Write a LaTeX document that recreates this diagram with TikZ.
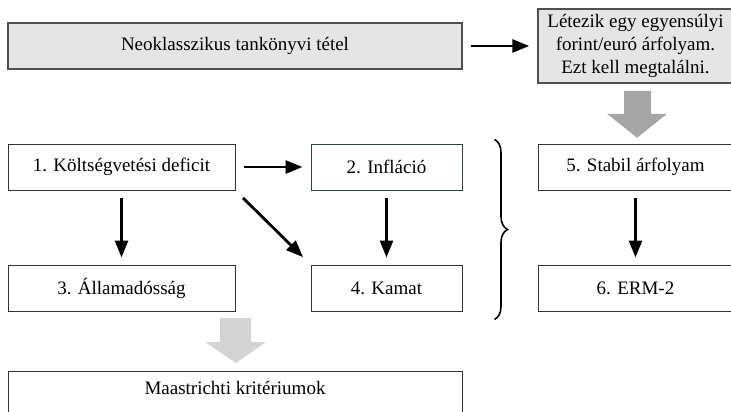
\documentclass[tikz,border=0pt]{standalone}
\usepackage{fontspec}
\setmainfont{Liberation Serif}
\usetikzlibrary{arrows.meta,calc,decorations.pathreplacing}
\definecolor{boxfill}{RGB}{229,229,229}
\definecolor{boxedge}{RGB}{80,80,80}
\definecolor{greenedge}{RGB}{40,72,56}
\definecolor{bigarrowdark}{RGB}{166,166,166}
\definecolor{bigarrowlight}{RGB}{212,212,212}
\tikzset{
  graybox/.style={draw=boxedge, line width=1.5pt, fill=boxfill, inner sep=0pt, align=center},
  plainbox/.style={draw=black!80, line width=1pt, fill=white, inner sep=0pt, minimum height=46pt},
  conn/.style={line width=2.8pt, -{Triangle[length=17pt,width=13pt]}},
}
\begin{document}
\begin{tikzpicture}[x=1pt,y=-1pt,font=\fontsize{19}{23}\selectfont]
\useasboundingbox (0,0) rectangle (731,412);
\clip (0,0) rectangle (731,412);
% top row
\node[graybox, minimum width=454pt, minimum height=46pt] (neo) at (235,46) {Neoklasszikus tankönyvi tétel};
\node[graybox, minimum width=195pt, minimum height=74pt] (let) at (635.5,46) {Létezik egy egyensúlyi\\forint/euró árfolyam.\\Ezt kell megtalálni.};
% middle rows
\node[plainbox, minimum width=227pt] (b1) at (121.5,167) {1. Költségvetési deficit};
\node[plainbox, minimum width=151pt, draw=greenedge] (b2) at (386.5,167) {2. Infláció};
\node[plainbox, minimum width=195pt] (b5) at (635.5,167) {5. Stabil árfolyam};
\node[plainbox, minimum width=227pt] (b3) at (121.5,288) {3. Államadósság};
\node[plainbox, minimum width=151pt] (b4) at (386.5,288) {4. Kamat};
\node[plainbox, minimum width=195pt] (b6) at (635.5,288) {6. ERM-2};
% bottom box (runs off the page)
\node[plainbox, anchor=north, minimum width=454pt, minimum height=0pt, inner ysep=9pt, text height=13.5pt, text depth=45pt] (maa) at (235,371) {Maastrichti kritériumok};
% black connectors
\draw[conn, shorten <=8pt, shorten >=8pt] (neo.east) -- (let.west |- neo.east);
\draw[conn, shorten <=8pt, shorten >=8pt] (b1.east) -- (b2.west);
\draw[conn, shorten <=7pt, shorten >=7pt] (b1.south) -- (b3.north);
\draw[conn, shorten <=7pt, shorten >=7pt] (b2.south) -- (b4.north);
\draw[conn, shorten <=7pt, shorten >=7pt] (b5.south) -- (b6.north);
\draw[conn, shorten <=10.5pt, shorten >=10.5pt] (b1.south east) -- (b4.north west);
% block arrows
\fill[bigarrowdark] ($(let.south)+(-11.5,7)$) -- ($(let.south)+(15.5,7)$) -- ($(let.south)+(15.5,30)$) -- ($(let.south)+(31.5,30)$) -- ($(let.south)+(1.5,54)$) -- ($(let.south)+(-28.5,30)$) -- ($(let.south)+(-11.5,30)$) -- cycle;
\fill[bigarrowlight] ($(maa.north)+(-15,-53)$) -- ($(maa.north)+(16,-53)$) -- ($(maa.north)+(16,-29)$) -- ($(maa.north)+(31,-29)$) -- ($(maa.north)+(1,-8)$) -- ($(maa.north)+(-30,-29)$) -- ($(maa.north)+(-15,-29)$) -- cycle;
% brace
\coordinate (bt) at ($(b2.north east)+(32,-4)$);
\coordinate (bb) at ($(b4.south east)+(32,8)$);
\draw[line width=1.6pt, decorate, decoration={brace, amplitude=13pt}] (bt) -- (bb);
\end{tikzpicture}
\end{document}
